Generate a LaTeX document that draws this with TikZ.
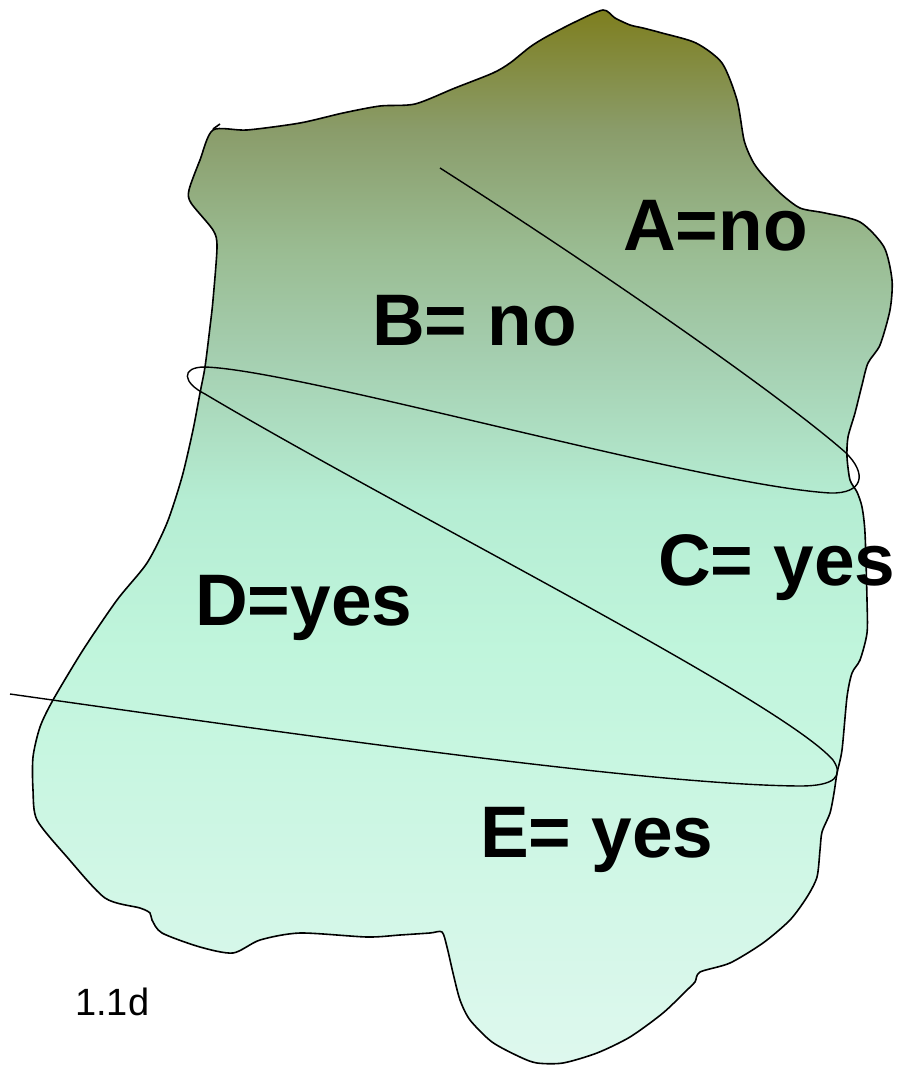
\documentclass[tikz,border=0pt]{standalone}
\usepackage{fontspec}
\setmainfont{Liberation Sans}
\definecolor{cA}{HTML}{7E7E1E}
\definecolor{cB}{HTML}{8A9C6A}
\definecolor{cC}{HTML}{9ABC92}
\definecolor{cD}{HTML}{A4CDAE}
\definecolor{cE}{HTML}{B5EDD3}
\definecolor{cF}{HTML}{C0F5DC}
\definecolor{cG}{HTML}{DEF8EE}
\pgfdeclareverticalshading{regionshade}{100bp}{color(0bp)=(cG); color(25bp)=(cG); color(44.6bp)=(cF); color(51.7bp)=(cE); color(58.9bp)=(cD); color(63.6bp)=(cC); color(69.3bp)=(cB); color(75bp)=(cA); color(100bp)=(cA)}
\tikzset{
  outline/.style={draw=black, line width=1.6pt, line join=round},
  split/.style={draw=black, line width=1.4pt, line join=round},
  biglabel/.style={anchor=base west, inner sep=0pt, font=\fontsize{73}{80}\selectfont\bfseries},
  smalllabel/.style={anchor=base west, inner sep=0pt, font=\fontsize{38}{44}\selectfont},
}
\begin{document}
\begin{tikzpicture}[x=1pt, y=-1pt]
\useasboundingbox (0,0) rectangle (901,1065);
\shadedraw[outline, shading=regionshade] plot[smooth cycle, tension=0.45] coordinates {
(213,130) (247,130) (300,123) (343,113) (380,106) (415,104) (455,88) (493,73) (510,63)
(530,47) (546,37) (575,22) (603,10) (615,18) (630,25) (643,28) (662,33) (696,43) (722,63)
(737,100) (744,140) (752,160) (761,173) (780,193) (800,208) (825,213) (860,222) (884,247)
(892,280) (890,310) (880,345) (868,363) (862,385) (855,413) (848,437) (847,457) (850,480)
(857,492) (862,507) (865,533) (867,600) (867,633) (860,660) (852,673) (847,697) (842,750)
(837,773) (834,793) (830,813) (822,832) (820,850) (817,877) (807,897) (790,920) (763,943)
(730,963) (700,972) (695,982) (687,990) (663,1013) (630,1037) (597,1053) (563,1063)
(537,1063) (520,1057) (492,1042) (470,1020) (460,1000) (453,973) (447,947) (442,932)
(430,933) (400,935) (367,937) (300,933) (260,940) (233,953) (200,947) (162,933) (152,920)
(150,913) (140,908) (105,898) (67,857) (37,820) (33,790) (33,757) (40,727) (53,700)
(83,650) (117,600) (147,563) (167,523) (182,477) (193,430) (200,393) (205,367) (210,327)
(213,300) (217,247) (213,230) (191,203) (189,190) (200,160)};
\draw[outline] (213,129) -- (220,124);
\draw[split] (440,168) .. controls (600,270) and (780,395) .. (845,452)
  .. controls (868,474) and (863,494) .. (830,493)
  .. controls (700,485) and (300,370) .. (205,367)
  .. controls (180,367) and (183,383) .. (205,394)
  .. controls (400,510) and (780,700) .. (833,760)
  .. controls (844,776) and (835,786) .. (800,786)
  .. controls (650,785) and (300,735) .. (10,694);
\node[biglabel] (A) at (623,250) {A=no};
\node[biglabel] (B) at (372,345) {B= no};
\node[biglabel] (C) at (658,585) {C= yes};
\node[biglabel] (D) at (195,625) {D=yes};
\node[biglabel] (E) at (480,857) {E= yes};
\node[smalllabel] (F) at (75,1015) {1.1d};
\end{tikzpicture}
\end{document}
